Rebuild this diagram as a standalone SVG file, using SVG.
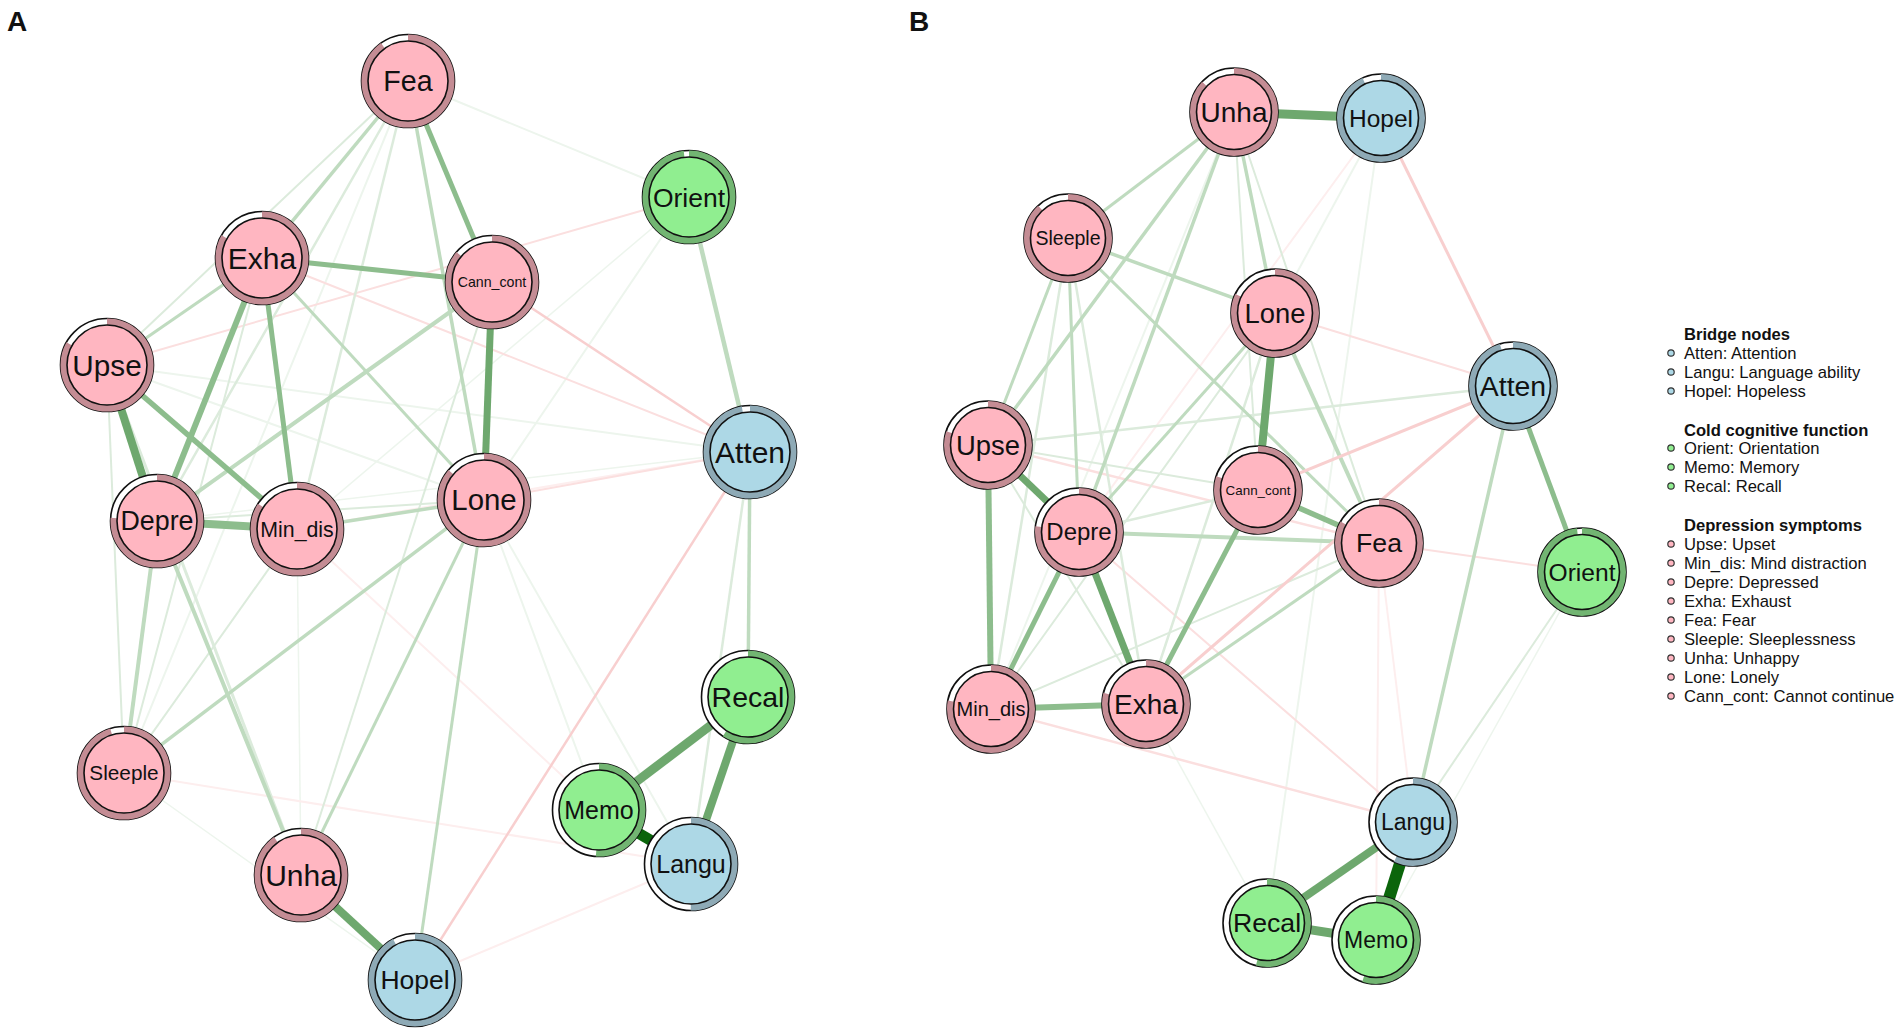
<svg xmlns="http://www.w3.org/2000/svg" width="1902" height="1034" viewBox="0 0 1902 1034">
<style>
.bg{fill:#fff}
.g0{stroke:#0b650b}
.g1{stroke:#6ea86e}
.g2{stroke:#8dbd8d}
.g3{stroke:#bfdbbf}
.g4{stroke:#dcebdc}
.g5{stroke:#edf5ed}
.r1{stroke:#f8cfcf}
.r2{stroke:#fbdfdf}
.r3{stroke:#fdeeee}
.o{fill:#fff;stroke:#111;stroke-width:1.6}
.rp{fill:none;stroke:#c48c94;stroke-width:6.5}
.rg{fill:none;stroke:#72b572;stroke-width:6.5}
.rb{fill:none;stroke:#8eaab6;stroke-width:6.5}
.ip{fill:#FFB6C1;stroke:#111;stroke-width:1.6}
.ig{fill:#90EE90;stroke:#111;stroke-width:1.6}
.ib{fill:#ADD8E6;stroke:#111;stroke-width:1.6}
.lb{font-family:"Liberation Sans",Arial,sans-serif;text-anchor:middle;fill:#111}
.pl{font-family:"Liberation Sans",Arial,sans-serif;font-weight:bold;font-size:28px;fill:#111}
.lh{font-family:"Liberation Sans",Arial,sans-serif;font-weight:bold;font-size:16.6px;fill:#111}
.lt{font-family:"Liberation Sans",Arial,sans-serif;font-size:16.6px;fill:#111}
.bp{fill:#FFB6C1;stroke:#333;stroke-width:1.2}
.bgn{fill:#90EE90;stroke:#333;stroke-width:1.2}
.bbl{fill:#ADD8E6;stroke:#333;stroke-width:1.2}
</style>
<rect class="bg" x="0" y="0" width="1902" height="1034"/>
<text class="pl" x="7" y="31">A</text>
<text class="pl" x="909" y="31">B</text>

<g id="edges-A" fill="none">
<line class="g5" stroke-width="2" x1="408" y1="81" x2="124" y2="773"/>
<line class="g5" stroke-width="2" x1="408" y1="81" x2="689" y2="197"/>
<line class="g5" stroke-width="2" x1="484" y1="500" x2="691" y2="864"/>
<line class="g5" stroke-width="2" x1="484" y1="500" x2="599" y2="810"/>
<line class="g5" stroke-width="2" x1="689" y1="197" x2="484" y2="500"/>
<line class="g5" stroke-width="1.5" x1="689" y1="197" x2="297" y2="529"/>
<line class="g5" stroke-width="2" x1="107" y1="365" x2="750" y2="452"/>
<line class="g5" stroke-width="2" x1="107" y1="365" x2="484" y2="500"/>
<line class="g5" stroke-width="1.5" x1="157" y1="521" x2="750" y2="452"/>
<line class="g5" stroke-width="1.5" x1="124" y1="773" x2="415" y2="980"/>
<line class="g5" stroke-width="1.5" x1="301" y1="875" x2="297" y2="529"/>
<line class="r3" stroke-width="2" x1="415" y1="980" x2="691" y2="864"/>
<line class="r3" stroke-width="2" x1="124" y1="773" x2="691" y2="864"/>
<line class="r3" stroke-width="2" x1="297" y1="529" x2="599" y2="810"/>
<line class="r3" stroke-width="2" x1="297" y1="529" x2="750" y2="452"/>
<line class="r2" stroke-width="2" x1="262" y1="258" x2="750" y2="452"/>
<line class="r2" stroke-width="2" x1="107" y1="365" x2="689" y2="197"/>
<line class="r2" stroke-width="2" x1="484" y1="500" x2="750" y2="452"/>
<line class="g4" stroke-width="2.5" x1="408" y1="81" x2="157" y2="521"/>
<line class="g4" stroke-width="2.5" x1="408" y1="81" x2="297" y2="529"/>
<line class="g4" stroke-width="2" x1="408" y1="81" x2="107" y2="365"/>
<line class="g4" stroke-width="2" x1="157" y1="521" x2="484" y2="500"/>
<line class="g4" stroke-width="2" x1="124" y1="773" x2="297" y2="529"/>
<line class="g4" stroke-width="2" x1="124" y1="773" x2="262" y2="258"/>
<line class="g4" stroke-width="2" x1="124" y1="773" x2="107" y2="365"/>
<line class="g4" stroke-width="3" x1="107" y1="365" x2="301" y2="875"/>
<line class="g4" stroke-width="2.5" x1="750" y1="452" x2="691" y2="864"/>
<line class="g4" stroke-width="2" x1="492" y1="282" x2="301" y2="875"/>
<line class="r1" stroke-width="2.5" x1="492" y1="282" x2="750" y2="452"/>
<line class="r1" stroke-width="2.5" x1="750" y1="452" x2="415" y2="980"/>
<line class="g3" stroke-width="3.5" x1="408" y1="81" x2="262" y2="258"/>
<line class="g3" stroke-width="3.5" x1="408" y1="81" x2="484" y2="500"/>
<line class="g3" stroke-width="4.5" x1="689" y1="197" x2="750" y2="452"/>
<line class="g3" stroke-width="3.5" x1="750" y1="452" x2="748" y2="697"/>
<line class="g3" stroke-width="4" x1="157" y1="521" x2="124" y2="773"/>
<line class="g3" stroke-width="4" x1="157" y1="521" x2="301" y2="875"/>
<line class="g3" stroke-width="4" x1="492" y1="282" x2="157" y2="521"/>
<line class="g3" stroke-width="3.5" x1="124" y1="773" x2="484" y2="500"/>
<line class="g3" stroke-width="3" x1="301" y1="875" x2="484" y2="500"/>
<line class="g3" stroke-width="3" x1="415" y1="980" x2="484" y2="500"/>
<line class="g3" stroke-width="3" x1="262" y1="258" x2="484" y2="500"/>
<line class="g3" stroke-width="3" x1="262" y1="258" x2="107" y2="365"/>
<line class="g3" stroke-width="3.5" x1="297" y1="529" x2="484" y2="500"/>
<line class="g2" stroke-width="5" x1="408" y1="81" x2="492" y2="282"/>
<line class="g2" stroke-width="5" x1="262" y1="258" x2="492" y2="282"/>
<line class="g2" stroke-width="5" x1="262" y1="258" x2="297" y2="529"/>
<line class="g2" stroke-width="5.5" x1="107" y1="365" x2="297" y2="529"/>
<line class="g2" stroke-width="6" x1="262" y1="258" x2="157" y2="521"/>
<line class="g2" stroke-width="8" x1="157" y1="521" x2="297" y2="529"/>
<line class="g1" stroke-width="7" x1="492" y1="282" x2="484" y2="500"/>
<line class="g1" stroke-width="8" x1="107" y1="365" x2="157" y2="521"/>
<line class="g1" stroke-width="8" x1="301" y1="875" x2="415" y2="980"/>
<line class="g1" stroke-width="8" x1="748" y1="697" x2="691" y2="864"/>
<line class="g1" stroke-width="9" x1="599" y1="810" x2="748" y2="697"/>
<line class="g0" stroke-width="11" x1="599" y1="810" x2="691" y2="864"/>
</g>

<g id="edges-B" fill="none">
<line class="g5" stroke-width="2" x1="1234" y1="112" x2="991" y2="709"/>
<line class="g5" stroke-width="2" x1="1381" y1="118" x2="1267" y2="923"/>
<line class="g5" stroke-width="2" x1="1381" y1="118" x2="1275" y2="313"/>
<line class="g5" stroke-width="1.5" x1="1146" y1="704" x2="1267" y2="923"/>
<line class="g5" stroke-width="1.5" x1="1582" y1="572" x2="1376" y2="940"/>
<line class="r3" stroke-width="2" x1="1381" y1="118" x2="1079" y2="532"/>
<line class="r3" stroke-width="2" x1="1379" y1="543" x2="1376" y2="940"/>
<line class="r3" stroke-width="2" x1="1379" y1="543" x2="1413" y2="822"/>
<line class="r2" stroke-width="2" x1="1275" y1="313" x2="1513" y2="386"/>
<line class="r2" stroke-width="2.5" x1="988" y1="445" x2="1379" y2="543"/>
<line class="r2" stroke-width="2" x1="1379" y1="543" x2="1582" y2="572"/>
<line class="r2" stroke-width="2" x1="1079" y1="532" x2="1413" y2="822"/>
<line class="r2" stroke-width="2.5" x1="991" y1="709" x2="1413" y2="822"/>
<line class="g4" stroke-width="2.5" x1="1068" y1="238" x2="991" y2="709"/>
<line class="g4" stroke-width="2.5" x1="1068" y1="238" x2="1146" y2="704"/>
<line class="g4" stroke-width="2" x1="1275" y1="313" x2="991" y2="709"/>
<line class="g4" stroke-width="2.5" x1="1275" y1="313" x2="1146" y2="704"/>
<line class="g4" stroke-width="2" x1="991" y1="709" x2="1379" y2="543"/>
<line class="g4" stroke-width="2.5" x1="1079" y1="532" x2="1258" y2="490"/>
<line class="g4" stroke-width="2" x1="988" y1="445" x2="1258" y2="490"/>
<line class="g4" stroke-width="2" x1="988" y1="445" x2="1146" y2="704"/>
<line class="g4" stroke-width="2.5" x1="988" y1="445" x2="1513" y2="386"/>
<line class="g4" stroke-width="2" x1="1234" y1="112" x2="1258" y2="490"/>
<line class="g4" stroke-width="2" x1="1234" y1="112" x2="1379" y2="543"/>
<line class="g4" stroke-width="2" x1="1582" y1="572" x2="1413" y2="822"/>
<line class="g3" stroke-width="4" x1="1275" y1="313" x2="1379" y2="543"/>
<line class="g3" stroke-width="4" x1="1079" y1="532" x2="1379" y2="543"/>
<line class="g3" stroke-width="3.5" x1="1234" y1="112" x2="988" y2="445"/>
<line class="g3" stroke-width="3.5" x1="1234" y1="112" x2="1079" y2="532"/>
<line class="g3" stroke-width="3.5" x1="1234" y1="112" x2="1275" y2="313"/>
<line class="g3" stroke-width="3" x1="1234" y1="112" x2="1068" y2="238"/>
<line class="g3" stroke-width="3.5" x1="1068" y1="238" x2="1275" y2="313"/>
<line class="g3" stroke-width="3" x1="1068" y1="238" x2="988" y2="445"/>
<line class="g3" stroke-width="3" x1="1068" y1="238" x2="1079" y2="532"/>
<line class="g3" stroke-width="3" x1="1068" y1="238" x2="1379" y2="543"/>
<line class="g3" stroke-width="3" x1="1275" y1="313" x2="1079" y2="532"/>
<line class="g3" stroke-width="3" x1="1146" y1="704" x2="1379" y2="543"/>
<line class="g3" stroke-width="3.5" x1="1513" y1="386" x2="1413" y2="822"/>
<line class="r1" stroke-width="3" x1="1381" y1="118" x2="1513" y2="386"/>
<line class="r1" stroke-width="3" x1="1513" y1="386" x2="1258" y2="490"/>
<line class="r1" stroke-width="3" x1="1513" y1="386" x2="1146" y2="704"/>
<line class="g2" stroke-width="5" x1="1513" y1="386" x2="1582" y2="572"/>
<line class="g2" stroke-width="5.5" x1="1258" y1="490" x2="1379" y2="543"/>
<line class="g2" stroke-width="5" x1="1258" y1="490" x2="1146" y2="704"/>
<line class="g2" stroke-width="5" x1="1079" y1="532" x2="991" y2="709"/>
<line class="g2" stroke-width="6" x1="988" y1="445" x2="991" y2="709"/>
<line class="g2" stroke-width="6" x1="991" y1="709" x2="1146" y2="704"/>
<line class="g1" stroke-width="7" x1="988" y1="445" x2="1079" y2="532"/>
<line class="g1" stroke-width="7" x1="1079" y1="532" x2="1146" y2="704"/>
<line class="g1" stroke-width="8" x1="1275" y1="313" x2="1258" y2="490"/>
<line class="g1" stroke-width="9" x1="1234" y1="112" x2="1381" y2="118"/>
<line class="g1" stroke-width="8" x1="1267" y1="923" x2="1413" y2="822"/>
<line class="g1" stroke-width="9" x1="1267" y1="923" x2="1376" y2="940"/>
<line class="g0" stroke-width="12" x1="1376" y1="940" x2="1413" y2="822"/>
</g>

<g id="nodes-A">
<g id="A-Fea" transform="translate(408,81)"><circle class="o" r="46.5"/><circle class="rp" r="43.25" transform="rotate(-90)" stroke-dasharray="244.6 300"/><circle class="ip" r="40"/><text class="lb" y="10" font-size="28.6">Fea</text></g>
<g id="A-Orient" transform="translate(689,197)"><circle class="o" r="46.5"/><circle class="rg" r="43.25" transform="rotate(-90)" stroke-dasharray="266.3 300"/><circle class="ig" r="40"/><text class="lb" y="9.5" font-size="26.5">Orient</text></g>
<g id="A-Exha" transform="translate(262,258)"><circle class="o" r="46.5"/><circle class="rp" r="43.25" transform="rotate(-90)" stroke-dasharray="225.6 300"/><circle class="ip" r="40"/><text class="lb" y="10.5" font-size="30">Exha</text></g>
<g id="A-Cann_cont" transform="translate(492,282)"><circle class="o" r="46.5"/><circle class="rp" r="43.25" transform="rotate(-90)" stroke-dasharray="233.7 300"/><circle class="ip" r="40"/><text class="lb" y="5" font-size="14.2">Cann_cont</text></g>
<g id="A-Upse" transform="translate(107,365)"><circle class="o" r="46.5"/><circle class="rp" r="43.25" transform="rotate(-90)" stroke-dasharray="225.6 300"/><circle class="ip" r="40"/><text class="lb" y="10.5" font-size="29.7">Upse</text></g>
<g id="A-Atten" transform="translate(750,452)"><circle class="o" r="46.5"/><circle class="rb" r="43.25" transform="rotate(-90)" stroke-dasharray="263.6 300"/><circle class="ib" r="40"/><text class="lb" y="10.5" font-size="30">Atten</text></g>
<g id="A-Lone" transform="translate(484,500)"><circle class="o" r="46.5"/><circle class="rp" r="43.25" transform="rotate(-90)" stroke-dasharray="233.7 300"/><circle class="ip" r="40"/><text class="lb" y="10.3" font-size="29.4">Lone</text></g>
<g id="A-Depre" transform="translate(157,521)"><circle class="o" r="46.5"/><circle class="rp" r="43.25" transform="rotate(-90)" stroke-dasharray="206.5 300"/><circle class="ip" r="40"/><text class="lb" y="9.4" font-size="26.8">Depre</text></g>
<g id="A-Min_dis" transform="translate(297,529)"><circle class="o" r="46.5"/><circle class="rp" r="43.25" transform="rotate(-90)" stroke-dasharray="228.3 300"/><circle class="ip" r="40"/><text class="lb" y="7.5" font-size="21.3">Min_dis</text></g>
<g id="A-Sleeple" transform="translate(124,773)"><circle class="o" r="46.5"/><circle class="rp" r="43.25" transform="rotate(-90)" stroke-dasharray="258.2 300"/><circle class="ip" r="40"/><text class="lb" y="7.3" font-size="20.8">Sleeple</text></g>
<g id="A-Unha" transform="translate(301,875)"><circle class="o" r="46.5"/><circle class="rp" r="43.25" transform="rotate(-90)" stroke-dasharray="244.6 300"/><circle class="ip" r="40"/><text class="lb" y="10.5" font-size="30">Unha</text></g>
<g id="A-Hopel" transform="translate(415,980)"><circle class="o" r="46.5"/><circle class="rb" r="43.25" transform="rotate(-90)" stroke-dasharray="250 300"/><circle class="ib" r="40"/><text class="lb" y="9.3" font-size="26.5">Hopel</text></g>
<g id="A-Recal" transform="translate(748,697)"><circle class="o" r="46.5"/><circle class="rg" r="43.25" transform="rotate(-90)" stroke-dasharray="160.3 300"/><circle class="ig" r="40"/><text class="lb" y="10" font-size="28.5">Recal</text></g>
<g id="A-Memo" transform="translate(599,810)"><circle class="o" r="46.5"/><circle class="rg" r="43.25" transform="rotate(-90)" stroke-dasharray="138.6 300"/><circle class="ig" r="40"/><text class="lb" y="8.8" font-size="25">Memo</text></g>
<g id="A-Langu" transform="translate(691,864)"><circle class="o" r="46.5"/><circle class="rb" r="43.25" transform="rotate(-90)" stroke-dasharray="135.9 300"/><circle class="ib" r="40"/><text class="lb" y="8.8" font-size="25">Langu</text></g>
</g>

<g id="nodes-B">
<g id="B-Unha" transform="translate(1234,112)"><circle class="o" r="44"/><circle class="rp" r="40.75" transform="rotate(-90)" stroke-dasharray="222.7 300"/><circle class="ip" r="37.5"/><text class="lb" y="9.8" font-size="28">Unha</text></g>
<g id="B-Hopel" transform="translate(1381,118)"><circle class="o" r="44"/><circle class="rb" r="40.75" transform="rotate(-90)" stroke-dasharray="238 300"/><circle class="ib" r="37.5"/><text class="lb" y="8.6" font-size="24.5">Hopel</text></g>
<g id="B-Sleeple" transform="translate(1068,238)"><circle class="o" r="44"/><circle class="rp" r="40.75" transform="rotate(-90)" stroke-dasharray="225.3 300"/><circle class="ip" r="37.5"/><text class="lb" y="6.8" font-size="19.5">Sleeple</text></g>
<g id="B-Lone" transform="translate(1275,313)"><circle class="o" r="44"/><circle class="rp" r="40.75" transform="rotate(-90)" stroke-dasharray="210 300"/><circle class="ip" r="37.5"/><text class="lb" y="9.6" font-size="27.4">Lone</text></g>
<g id="B-Atten" transform="translate(1513,386)"><circle class="o" r="44"/><circle class="rb" r="40.75" transform="rotate(-90)" stroke-dasharray="243.2 300"/><circle class="ib" r="37.5"/><text class="lb" y="9.9" font-size="28.4">Atten</text></g>
<g id="B-Upse" transform="translate(988,445)"><circle class="o" r="44"/><circle class="rp" r="40.75" transform="rotate(-90)" stroke-dasharray="204.8 300"/><circle class="ip" r="37.5"/><text class="lb" y="9.6" font-size="27.4">Upse</text></g>
<g id="B-Cann_cont" transform="translate(1258,490)"><circle class="o" r="44"/><circle class="rp" r="40.75" transform="rotate(-90)" stroke-dasharray="204.8 300"/><circle class="ip" r="37.5"/><text class="lb" y="4.7" font-size="13.4">Cann_cont</text></g>
<g id="B-Depre" transform="translate(1079,532)"><circle class="o" r="44"/><circle class="rp" r="40.75" transform="rotate(-90)" stroke-dasharray="197.1 300"/><circle class="ip" r="37.5"/><text class="lb" y="8.4" font-size="24">Depre</text></g>
<g id="B-Fea" transform="translate(1379,543)"><circle class="o" r="44"/><circle class="rp" r="40.75" transform="rotate(-90)" stroke-dasharray="212.5 300"/><circle class="ip" r="37.5"/><text class="lb" y="9.3" font-size="26.7">Fea</text></g>
<g id="B-Orient" transform="translate(1582,572)"><circle class="o" r="44"/><circle class="rg" r="40.75" transform="rotate(-90)" stroke-dasharray="250.9 300"/><circle class="ig" r="37.5"/><text class="lb" y="8.6" font-size="24.6">Orient</text></g>
<g id="B-Min_dis" transform="translate(991,709)"><circle class="o" r="44"/><circle class="rp" r="40.75" transform="rotate(-90)" stroke-dasharray="199.7 300"/><circle class="ip" r="37.5"/><text class="lb" y="7" font-size="20">Min_dis</text></g>
<g id="B-Exha" transform="translate(1146,704)"><circle class="o" r="44"/><circle class="rp" r="40.75" transform="rotate(-90)" stroke-dasharray="202.2 300"/><circle class="ip" r="37.5"/><text class="lb" y="9.8" font-size="28">Exha</text></g>
<g id="B-Langu" transform="translate(1413,822)"><circle class="o" r="44"/><circle class="rb" r="40.75" transform="rotate(-90)" stroke-dasharray="145.9 300"/><circle class="ib" r="37.5"/><text class="lb" y="8" font-size="23">Langu</text></g>
<g id="B-Recal" transform="translate(1267,923)"><circle class="o" r="44"/><circle class="rg" r="40.75" transform="rotate(-90)" stroke-dasharray="138.2 300"/><circle class="ig" r="37.5"/><text class="lb" y="9.3" font-size="26.7">Recal</text></g>
<g id="B-Memo" transform="translate(1376,940)"><circle class="o" r="44"/><circle class="rg" r="40.75" transform="rotate(-90)" stroke-dasharray="140.8 300"/><circle class="ig" r="37.5"/><text class="lb" y="8" font-size="23">Memo</text></g>
</g>

<g id="legend">
<text class="lh" x="1684" y="340">Bridge nodes</text>
<circle class="bbl" cx="1671" cy="353" r="3.2"/><text class="lt" x="1684" y="359">Atten: Attention</text>
<circle class="bbl" cx="1671" cy="372" r="3.2"/><text class="lt" x="1684" y="378">Langu: Language ability</text>
<circle class="bbl" cx="1671" cy="391" r="3.2"/><text class="lt" x="1684" y="397">Hopel: Hopeless</text>
<text class="lh" x="1684" y="436">Cold cognitive function</text>
<circle class="bgn" cx="1671" cy="448" r="3.2"/><text class="lt" x="1684" y="454">Orient: Orientation</text>
<circle class="bgn" cx="1671" cy="467" r="3.2"/><text class="lt" x="1684" y="473">Memo: Memory</text>
<circle class="bgn" cx="1671" cy="486" r="3.2"/><text class="lt" x="1684" y="492">Recal: Recall</text>
<text class="lh" x="1684" y="531">Depression symptoms</text>
<circle class="bp" cx="1671" cy="544" r="3.2"/><text class="lt" x="1684" y="550">Upse: Upset</text>
<circle class="bp" cx="1671" cy="563" r="3.2"/><text class="lt" x="1684" y="569">Min_dis: Mind distraction</text>
<circle class="bp" cx="1671" cy="582" r="3.2"/><text class="lt" x="1684" y="588">Depre: Depressed</text>
<circle class="bp" cx="1671" cy="601" r="3.2"/><text class="lt" x="1684" y="607">Exha: Exhaust</text>
<circle class="bp" cx="1671" cy="620" r="3.2"/><text class="lt" x="1684" y="626">Fea: Fear</text>
<circle class="bp" cx="1671" cy="639" r="3.2"/><text class="lt" x="1684" y="645">Sleeple: Sleeplessness</text>
<circle class="bp" cx="1671" cy="658" r="3.2"/><text class="lt" x="1684" y="664">Unha: Unhappy</text>
<circle class="bp" cx="1671" cy="677" r="3.2"/><text class="lt" x="1684" y="683">Lone: Lonely</text>
<circle class="bp" cx="1671" cy="696" r="3.2"/><text class="lt" x="1684" y="702">Cann_cont: Cannot continue</text>
</g>
</svg>
